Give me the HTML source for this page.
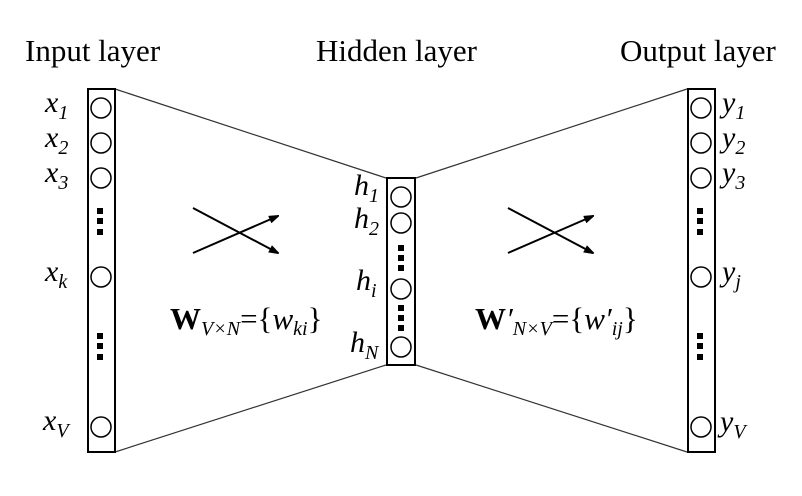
<!DOCTYPE html>
<html><head><style>body{margin:0;background:#fff}</style></head><body>
<svg width="802" height="491" xmlns="http://www.w3.org/2000/svg" font-family="Liberation Serif, serif">
<defs><marker id="a" markerWidth="10" markerHeight="8" refX="9" refY="4" orient="auto" markerUnits="userSpaceOnUse"><path d="M0,0 L12,4 L0,8 z" fill="#000"/></marker></defs>
<rect width="802" height="491" fill="#fff"/>
<text x="25" y="61" font-size="31">Input layer</text>
<text x="316" y="61" font-size="31">Hidden layer</text>
<text x="620" y="61" font-size="31">Output layer</text>
<g stroke="#333" stroke-width="1.2" fill="none">
<line x1="115" y1="89" x2="386" y2="178"/><line x1="115" y1="452" x2="386" y2="365"/>
<line x1="416" y1="178" x2="687" y2="89"/><line x1="416" y1="365" x2="687" y2="452"/>
</g>
<g stroke="#000" stroke-width="2" fill="none">
<rect x="88" y="89" width="27" height="363"/>
<rect x="387" y="178" width="28" height="187"/>
<rect x="688" y="89" width="27" height="363"/>
</g>
<g stroke="#000" stroke-width="1.5" fill="#fff">
<circle cx="101" cy="108" r="10"/><circle cx="101" cy="143" r="10"/><circle cx="101" cy="178" r="10"/><circle cx="101" cy="277" r="10"/><circle cx="101" cy="427" r="10"/>
<circle cx="401" cy="197" r="10"/><circle cx="401" cy="223" r="10"/><circle cx="401" cy="289" r="10"/><circle cx="401" cy="347" r="10"/>
<circle cx="701" cy="108" r="10"/><circle cx="701" cy="143" r="10"/><circle cx="701" cy="178" r="10"/><circle cx="701" cy="277" r="10"/><circle cx="701" cy="427" r="10"/>
</g>
<g fill="#000">
<rect x="97" y="208" width="6" height="6"/><rect x="97" y="218" width="6" height="6"/><rect x="97" y="229" width="6" height="6"/>
<rect x="97" y="333" width="6" height="6"/><rect x="97" y="343" width="6" height="6"/><rect x="97" y="354" width="6" height="6"/>
<rect x="697" y="208" width="6" height="6"/><rect x="697" y="218" width="6" height="6"/><rect x="697" y="229" width="6" height="6"/>
<rect x="697" y="333" width="6" height="6"/><rect x="697" y="343" width="6" height="6"/><rect x="697" y="354" width="6" height="6"/>
<rect x="398" y="245" width="6" height="6"/><rect x="398" y="255" width="6" height="6"/><rect x="398" y="265" width="6" height="6"/>
<rect x="398" y="305" width="6" height="6"/><rect x="398" y="315" width="6" height="6"/><rect x="398" y="325" width="6" height="6"/>
</g>
<g stroke="#000" stroke-width="2" marker-end="url(#a)">
<line x1="193" y1="208" x2="278" y2="253"/><line x1="193" y1="253" x2="278" y2="216"/>
<line x1="508" y1="208" x2="593" y2="253"/><line x1="508" y1="253" x2="593" y2="216"/>
</g>
<g font-size="30" font-style="italic">
<text x="45" y="112">x<tspan font-size="20" dy="7">1</tspan></text>
<text x="45" y="147">x<tspan font-size="20" dy="7">2</tspan></text>
<text x="45" y="182">x<tspan font-size="20" dy="7">3</tspan></text>
<text x="45" y="281">x<tspan font-size="20" dy="7">k</tspan></text>
<text x="43" y="430">x<tspan font-size="20" dy="7">V</tspan></text>
<text x="354" y="195">h<tspan font-size="20" dy="7">1</tspan></text>
<text x="354" y="228">h<tspan font-size="20" dy="7">2</tspan></text>
<text x="356" y="290">h<tspan font-size="20" dy="7">i</tspan></text>
<text x="350" y="352">h<tspan font-size="20" dy="7">N</tspan></text>
<text x="722" y="112">y<tspan font-size="20" dy="7">1</tspan></text>
<text x="722" y="147">y<tspan font-size="20" dy="7">2</tspan></text>
<text x="722" y="182">y<tspan font-size="20" dy="7">3</tspan></text>
<text x="722" y="281">y<tspan font-size="20" dy="7">j</tspan></text>
<text x="720" y="431">y<tspan font-size="20" dy="7">V</tspan></text>
</g>
<text x="170" y="329" font-size="31"><tspan font-weight="bold" font-style="normal">W</tspan><tspan font-style="italic" font-size="20" dy="6">V×N</tspan><tspan dy="-6">={</tspan><tspan font-style="italic">w</tspan><tspan font-style="italic" font-size="20" dy="6">ki</tspan><tspan dy="-6">}</tspan></text>
<text x="475" y="329" font-size="31"><tspan font-weight="bold">W</tspan><tspan font-style="italic">′</tspan><tspan font-style="italic" font-size="20" dy="6">N×V</tspan><tspan dy="-6">={</tspan><tspan font-style="italic">w′</tspan><tspan font-style="italic" font-size="20" dy="6">ij</tspan><tspan dy="-6">}</tspan></text>
</svg>
</body></html>
